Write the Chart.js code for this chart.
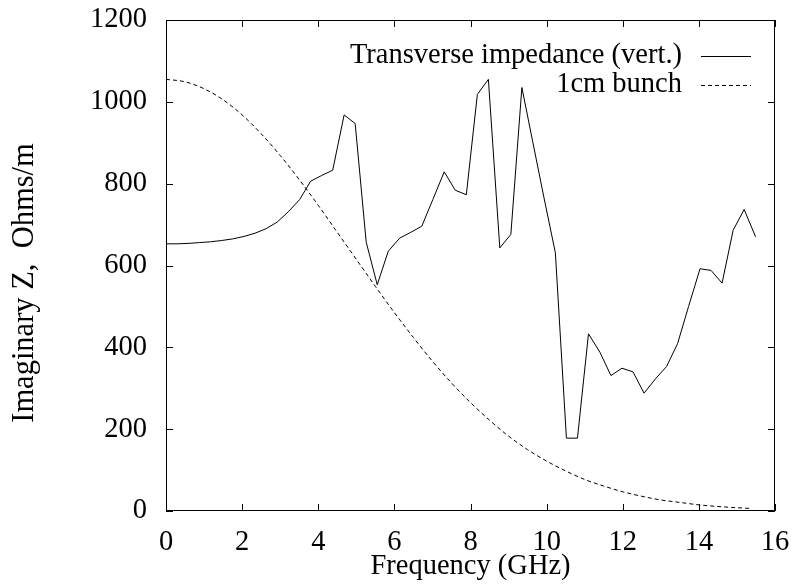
<!DOCTYPE html>
<html>
<head>
<meta charset="utf-8">
<script src="https://cdn.jsdelivr.net/npm/chart.js@4"></script>
<style>
  body { margin: 0; background: #fff; }
  #wrap { width: 795px; height: 588px; position: relative; }
</style>
</head>
<body>
<div id="wrap"><canvas id="chart"></canvas></div>
<script>
// impedance samples (GHz, Ohms/m)
const freqImp = [0, 0.29, 0.58, 0.88, 1.17, 1.46, 1.75, 2.05, 2.34, 2.63, 2.92, 3.21, 3.51, 3.80,
    4.09, 4.38, 4.68, 4.97, 5.26, 5.55, 5.84, 6.14, 6.43, 6.72, 7.01, 7.31, 7.60, 7.89, 8.18,
    8.47, 8.77, 9.06, 9.35, 9.64, 9.93, 10.23, 10.52, 10.81, 11.10, 11.40, 11.69, 11.98, 12.27,
    12.56, 12.86, 13.15, 13.44, 13.73, 14.03, 14.32, 14.61, 14.90, 15.19, 15.49];
const impedance = [653, 653, 654, 656, 658, 661, 665, 671, 679, 690, 706, 731, 761, 806,
    820, 833, 968, 947, 657, 553, 635, 667, 681, 696, 761, 829, 784, 773, 1018,
    1055, 643, 676, 1035, 900, 766, 631, 178, 178, 433, 388, 331, 349, 340,
    288, 323, 353, 409, 500, 592, 588, 557, 686, 737, 670];

// bunch spectrum (scaled)
const freqBunch = [0, 0.5, 1, 1.5, 2, 2.5, 3, 3.5, 4, 4.5, 5, 5.5, 6, 6.5, 7, 7.5, 8, 8.5,
    9, 9.5, 10, 10.5, 11, 11.5, 12, 12.5, 13, 13.5, 14, 14.5, 15, 15.4];
const bunch = [1055, 1049, 1032, 1005, 968, 922, 869, 810, 747, 681, 615, 549, 485, 424,
    366, 313, 265, 222, 183, 150, 122, 98, 77, 61, 47, 36, 27, 21, 15, 11, 8, 6];

const xTicks = [0, 2, 4, 6, 8, 10, 12, 14, 16];
const yTicks = [0, 200, 400, 600, 800, 1000, 1200];

const FONT = "'Liberation Serif', 'Times New Roman', serif";
const FONT_SIZE = 28.5;

function toPoints(xs, ys) {
    return xs.map((x, i) => ({ x: x, y: ys[i] }));
}

// gnuplot style frame: box round the plot with ticks pointing inwards, plus legend
const framePlugin = {
    id: 'frame',
    afterDraw(chart) {
        const ctx = chart.ctx;
        const a = chart.chartArea;
        const xs = chart.scales.x, ys = chart.scales.y;
        const len = 7;
        ctx.save();
        ctx.strokeStyle = '#000';
        ctx.lineWidth = 1;
        ctx.strokeRect(a.left + 0.5, a.top + 0.5, a.right - a.left - 1, a.bottom - a.top - 1);
        ctx.beginPath();
        xTicks.forEach(v => {
            const px = Math.round(xs.getPixelForValue(v)) + 0.5;
            ctx.moveTo(px, a.bottom); ctx.lineTo(px, a.bottom - len);
            ctx.moveTo(px, a.top); ctx.lineTo(px, a.top + len);
        });
        yTicks.forEach(v => {
            const py = Math.round(ys.getPixelForValue(v)) + 0.5;
            ctx.moveTo(a.left, py); ctx.lineTo(a.left + len, py);
            ctx.moveTo(a.right, py); ctx.lineTo(a.right - len, py);
        });
        ctx.stroke();

        // y axis title (gnuplot puts it a little below centre)
        ctx.fillStyle = '#000';
        ctx.textAlign = 'center';
        ctx.textBaseline = 'middle';
        ctx.save();
        ctx.font = '30.5px ' + FONT;
        ctx.translate(25, 283);
        ctx.rotate(-Math.PI / 2);
        ctx.fillText('Imaginary Z,  Ohms/m', 0, 0);
        ctx.restore();

        // legend: text right aligned, sample line on the right
        ctx.font = FONT_SIZE + 'px ' + FONT;
        chart.data.datasets.forEach((ds, i) => {
            const y = 56 + i * 29;
            ctx.textAlign = 'right';
            ctx.fillText(ds.label, 682, y);
            ctx.beginPath();
            ctx.setLineDash(ds.borderDash || []);
            ctx.moveTo(701, y + 0.5);
            ctx.lineTo(751, y + 0.5);
            ctx.stroke();
            ctx.setLineDash([]);
        });
        ctx.restore();
    }
};

new Chart(document.getElementById('chart'), {
    type: 'line',
    data: {
        datasets: [
            {
                label: 'Transverse impedance (vert.)',
                data: toPoints(freqImp, impedance),
                borderColor: '#000',
                borderWidth: 1,
                pointRadius: 0,
                tension: 0,
                fill: false
            },
            {
                label: '1cm bunch',
                data: toPoints(freqBunch, bunch),
                borderColor: '#000',
                borderWidth: 1,
                borderDash: [4, 3],
                pointRadius: 0,
                cubicInterpolationMode: 'monotone',
                fill: false
            }
        ]
    },
    options: {
        responsive: true,
        maintainAspectRatio: false,
        animation: false,
        layout: { padding: { top: 20, right: 20, left: 0, bottom: 0 } },
        scales: {
            x: {
                type: 'linear',
                min: 0,
                max: 16,
                afterFit: s => { s.height = 77; s.paddingLeft = 0; s.paddingRight = 0; },
                afterBuildTicks: s => { s.ticks = xTicks.map(v => ({ value: v })); },
                grid: { display: false, drawTicks: false },
                border: { display: false },
                ticks: {
                    color: '#000',
                    padding: 14,
                    maxRotation: 0,
                    callback: v => String(v),
                    font: { family: FONT, size: FONT_SIZE }
                },
                title: {
                    display: true,
                    text: 'Frequency (GHz)',
                    color: '#000',
                    padding: { top: 0, bottom: 4 },
                    font: { family: FONT, size: FONT_SIZE }
                }
            },
            y: {
                min: 0,
                max: 1200,
                afterFit: s => { s.width = 166; s.paddingTop = 0; s.paddingBottom = 0; },
                afterBuildTicks: s => { s.ticks = yTicks.map(v => ({ value: v })); },
                grid: { display: false, drawTicks: false },
                border: { display: false },
                ticks: {
                    color: '#000',
                    padding: 19,
                    callback: v => String(v),
                    font: { family: FONT, size: FONT_SIZE }
                }
            }
        },
        plugins: {
            legend: { display: false },
            tooltip: { enabled: false }
        }
    },
    plugins: [framePlugin]
});
</script>
</body>
</html>
